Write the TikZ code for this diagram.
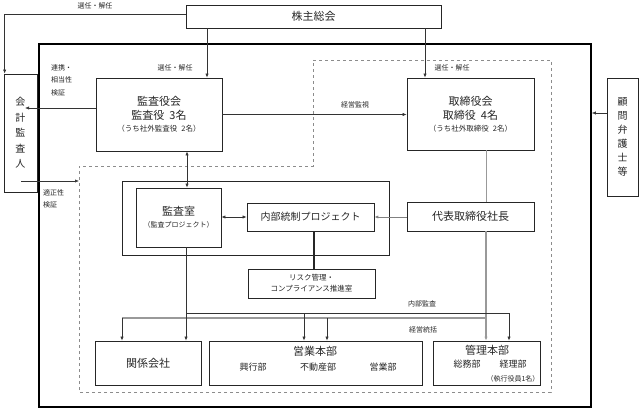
\documentclass[tikz,border=0pt]{standalone}
\usepackage{fontspec}
\setmainfont{Noto Sans CJK JP}
\usetikzlibrary{arrows.meta,calc}
\newcommand{\smallj}{\fontsize{7.5}{11}\selectfont}
\begin{document}
\begin{tikzpicture}[x=1pt,y=-1pt,
  box/.style={draw=black!85, line width=0.7pt, inner sep=0pt, align=center, text=black!85},
  ln/.style={draw=black!80, line width=0.6pt},
  arr/.style={-{Latex[length=4pt,width=3.2pt]}, draw=black!80, line width=0.6pt},
  dbl/.style={{Latex[length=4pt,width=3.2pt]}-{Latex[length=4pt,width=3.2pt]}, draw=black!80, line width=0.6pt},
  garr/.style={-{Latex[length=4pt,width=3.2pt]}, draw=black!40, line width=1.2pt},
  gln/.style={draw=black!40, line width=1.2pt},
  lbl/.style={font=\fontsize{7}{12.5}\selectfont, text=black!85, inner sep=0pt, align=left},
  big/.style={font=\fontsize{11}{14}\selectfont},
  mid/.style={font=\fontsize{9}{12}\selectfont, text=black!85, inner sep=0pt},
]
\useasboundingbox (0,0) rectangle (643,409);

% containers
\draw[black!45, dashed, line width=0.7pt] (313,60) -- (551,60) -- (551,392) -- (79,392) -- (79,166) -- (313,166) -- cycle;
\node[draw=black, line width=1.5pt, minimum width=552pt, minimum height=363pt, inner sep=0pt] (outer) at (315,225.5) {};
\node[draw=black!85, line width=0.8pt, minimum width=267pt, minimum height=74pt, inner sep=0pt] (inner) at (255.5,218) {};

% boxes
\node[box, big, minimum width=255pt, minimum height=23pt] (kabu) at (313.5,16.5) {株主総会};
\node[box, big, minimum width=126pt, minimum height=73pt] (kansa) at (159,114.5)
  {監査役会\\監査役\hspace{5pt}3名\\[-2pt]{\smallj （うち社外監査役\hspace{4pt}2名）}};
\node[box, big, minimum width=127pt, minimum height=72pt] (tori) at (470.5,114)
  {取締役会\\取締役\hspace{5pt}4名\\[-2pt]{\smallj （うち社外取締役\hspace{4pt}2名）}};
\node[box, font=\fontsize{10}{15.5}\selectfont, minimum width=33pt, minimum height=118pt] (kaikei) at (20.5,133)
  {会\\計\\監\\査\\人};
\node[box, font=\fontsize{10}{14}\selectfont, minimum width=31pt, minimum height=118pt] (komon) at (622.5,137)
  {顧\\問\\弁\\護\\士\\等};
\node[box, big, minimum width=85pt, minimum height=59pt] (kshitsu) at (178.5,217.5)
  {監査室\\[-2pt]{\fontsize{7}{10}\selectfont （監査プロジェクト）}};
\node[box, font=\fontsize{10}{12}\selectfont, minimum width=127pt, minimum height=28pt] (naibu) at (310.5,217) {内部統制プロジェクト};
\node[box, big, minimum width=127pt, minimum height=29pt] (daihyo) at (470.5,216.5) {代表取締役社長};
\node[box, font=\fontsize{7.5}{11}\selectfont, minimum width=127pt, minimum height=29pt] (risk) at (311.5,283.5)
  {リスク管理・\\コンプライアンス推進室};
\node[box, big, minimum width=106pt, minimum height=44pt] (kankei) at (148,363) {関係会社};
\node[box, minimum width=213pt, minimum height=44pt] (eigyo) at (315.5,363) {};
\node[box, minimum width=107pt, minimum height=44pt] (kanri) at (486.5,363) {};

\node[big, text=black!85, inner sep=0pt] (eigyoT) at (315,351) {営業本部};
\node[mid] (kogyo) at (253,367) {興行部};
\node[mid] (fudo) at (318,367) {不動産部};
\node[mid] (eigyob) at (383,367) {営業部};
\node[big, text=black!85, inner sep=0pt] (kanriT) at (487,350) {管理本部};
\node[mid] (somu) at (467,364) {総務部};
\node[mid] (keiri) at (513,364) {経理部};
\node[font=\fontsize{7}{9}\selectfont, text=black!85, inner sep=0pt] (shikko) at (513,379) {（執行役員1名）};

% labels
\node[lbl] (l1) at (95,6) {選任・解任};
\node[lbl] (l2) at (175,68) {選任・解任};
\node[lbl] (l3) at (452,68) {選任・解任};
\node[lbl, anchor=north west] (l4) at (51,64) {連携・\\相当性\\検証};
\node[lbl, anchor=north west] (l6) at (43,189) {適正性\\検証};
\node[lbl] (l5) at (355,105) {経営監視};
\node[lbl] (l7) at (422,304) {内部監査};
\node[lbl] (l8) at (423,330) {経営統括};

% coordinates
\coordinate (kabuL) at (186,14);
\coordinate (xa) at (207,0);
\coordinate (xb) at (425,0);
\coordinate (kaiIn) at (25,108);
\coordinate (kaiOut) at (21,181);
\coordinate (dashL) at (79,181);
\coordinate (yk) at (0,113);
\coordinate (xd) at (187,0);
\coordinate (xe) at (486,0);
\coordinate (xf) at (314,0);
\coordinate (xg) at (186,0);
\coordinate (ia1) at (186,313);
\coordinate (ia2) at (509,313);
\coordinate (ia3) at (304,313);
\coordinate (ms1) at (486,318);
\coordinate (ms2) at (122,318);
\coordinate (ms3) at (327,318);

% connectors
\draw[arr] (kabuL) -| ([xshift=1pt]kaikei.north west);
\draw[arr] (kabu.south -| xa) -- (kansa.north -| xa);
\draw[arr] (kabu.south -| xb) -- (tori.north -| xb);
\draw[arr] (kansa.west |- kaiIn) -- (kaiIn);
\draw[arr] (kansa.east) -- (kansa.east -| tori.west);
\draw[arr] (kaiOut) -- (dashL);
\draw[arr] (komon.west |- yk) -- (outer.east |- yk);
\draw[dbl] (kansa.south -| xd) -- (kshitsu.north -| xd);
\draw[dbl] (kshitsu.east |- naibu.west) -- (naibu.west);
\draw[arr, draw=black!50, line width=0.9pt] (daihyo.west |- naibu.east) -- (naibu.east);
\draw[gln, line width=0.8pt] (tori.south -| xe) -- (daihyo.north -| xe);
\draw[ln, line width=1.3pt, draw=black!85] (naibu.south -| xf) -- (risk.north -| xf);
% management lines (gray)
\draw[garr] (daihyo.south -| xe) -- (kanri.north -| xe);
\draw[gln] (ms1) -- (ms2);
\draw[arr] (ms2) -- (kankei.north -| ms2);
\draw[arr] (ms3) -- (eigyo.north -| ms3);
% internal audit (black)
\draw[arr] (kshitsu.south -| xg) -- (kankei.north -| xg);
\draw[ln] (ia1) -- (ia2);
\draw[arr] (ia2) -- (kanri.north -| ia2);
\draw[arr] (ia3) -- (eigyo.north -| ia3);
\end{tikzpicture}
\end{document}
